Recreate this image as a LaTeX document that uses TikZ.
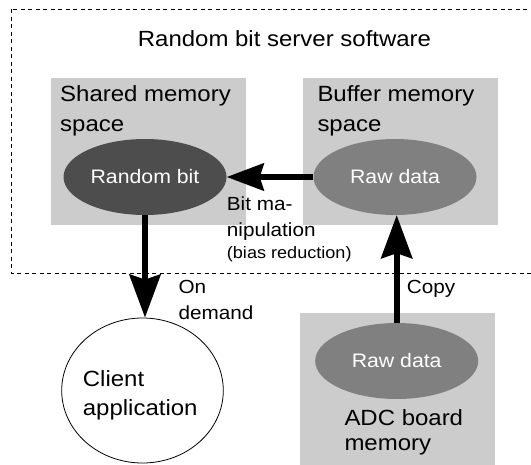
\documentclass[tikz,border=0pt]{standalone}
\usepackage{fontspec}
\setmainfont[FakeStretch=1.09]{Liberation Sans}
\usetikzlibrary{arrows.meta,shapes.geometric}
\definecolor{boxgray}{RGB}{204,204,204}
\definecolor{darkell}{RGB}{77,77,77}
\definecolor{midell}{RGB}{128,128,128}
\begin{document}
\begin{tikzpicture}[x=1pt,y=-1pt,
  fbig/.style={font=\fontsize{22pt}{26pt}\selectfont},
  fmid/.style={font=\fontsize{19.5pt}{23pt}\selectfont},
  fsml/.style={font=\fontsize{19pt}{22pt}\selectfont},
  ftiny/.style={font=\fontsize{16.6pt}{19pt}\selectfont},
  txt/.style={inner sep=0pt, anchor=base west},
  membox/.style={fill=boxgray, draw=none},
  darkblob/.style={ellipse, fill=darkell, text=white, fmid, inner sep=0pt, minimum width=163pt, minimum height=76pt},
  midblob/.style={ellipse, fill=midell, text=white, fmid, inner sep=0pt, minimum width=163pt, minimum height=76pt},
  dashbox/.style={draw=black, line width=1pt, dash pattern=on 4pt off 3.5pt},
  vflow/.style={line width=6pt, -{Stealth[length=43pt,width=31pt,inset=5pt]}},
  hflow/.style={line width=6pt, -{Stealth[length=37pt,width=27pt,inset=4pt]}}
]
\clip (0,0) rectangle (531,464);
% dashed software boundary
\draw[dashbox] (11.5,9) rectangle (560,273.3);
\node[fbig, inner sep=0pt, anchor=base] (title) at (284.5,46.7) {Random bit server software};
% memory boxes
\path[membox] (50.7,78.3) rectangle (245.7,225);
\path[membox] (302.7,78.3) rectangle (498,225);
\path[membox] (300,312.7) rectangle (495,470);
\node[txt, fbig] (sh1) at (60,101.7) {Shared memory};
\node[txt, fbig] (sh2) at (60,131) {space};
\node[txt, fbig] (bu1) at (317.3,101.7) {Buffer memory};
\node[txt, fbig] (bu2) at (317.3,131) {space};
\node[txt, fbig] (adc1) at (344.3,425.7) {ADC board};
\node[txt, fbig] (adc2) at (344.3,450) {memory};
% ellipses
\node[darkblob] (rand) at (145,177) {Random bit};
\node[midblob] (rawtop) at (395,177) {Raw data};
\node[midblob] (rawbot) at (396.7,361) {Raw data};
\node[ellipse, draw=black, line width=0.8pt, fill=white, minimum width=161.6pt, minimum height=145pt, inner sep=0pt] (client) at (142.5,390.5) {};
\node[txt, fbig] (cl1) at (82.7,386) {Client};
\node[txt, fbig] (cl2) at (82.7,415) {application};
% labels
\node[txt, fsml] (bm1) at (226.7,210) {Bit ma-};
\node[txt, fsml] (bm2) at (226.7,236.7) {nipulation};
\node[txt, ftiny] (bm3) at (226.7,258.3) {(bias reduction)};
\node[txt, fsml] (od1) at (178.3,293.3) {On};
\node[txt, fsml] (od2) at (178.3,319.5) {demand};
\node[txt, fsml] (cp) at (406.7,293.3) {Copy};
% flows
\draw[hflow] (rawtop.west) -- (rand.east);
\draw[vflow] (rand.south) -- (rand.south |- client.north);
\draw[vflow] (rawbot.north) -- (rawbot.north |- rawtop.south);
\end{tikzpicture}
\end{document}
